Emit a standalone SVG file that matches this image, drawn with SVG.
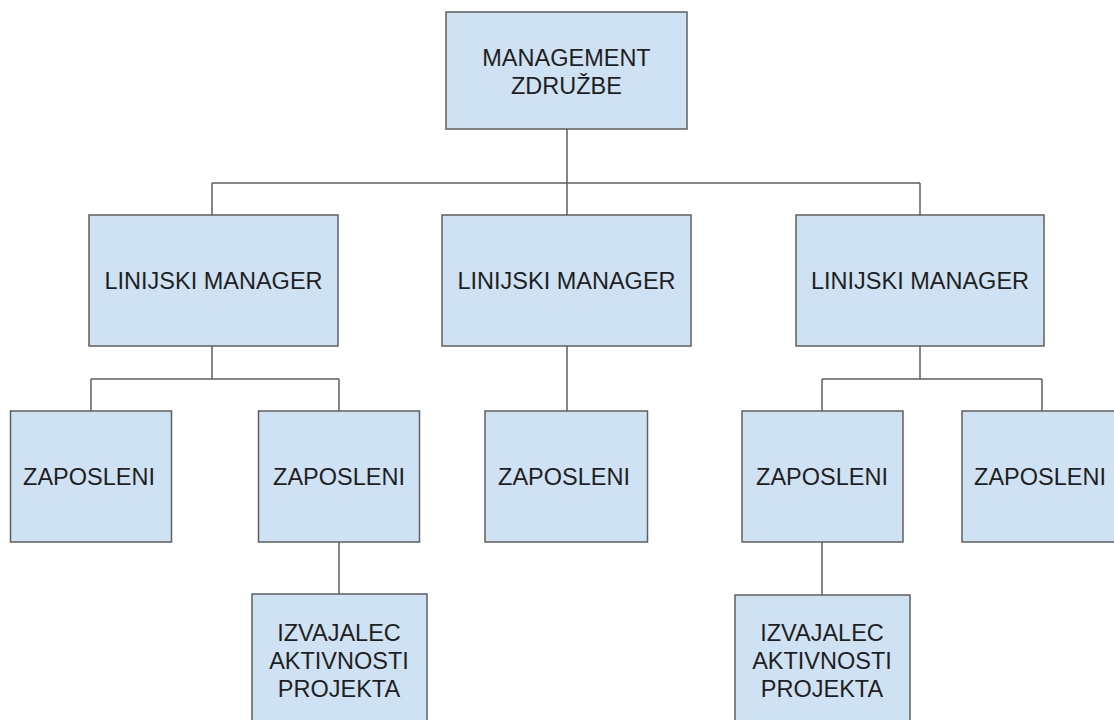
<svg xmlns="http://www.w3.org/2000/svg" width="1114" height="720" viewBox="0 0 1114 720">
  <style>
    .box { fill: #cfe2f3; stroke: #5f5f5f; stroke-width: 1.5; }
    .lbl { font-family: "Liberation Sans", Arial, sans-serif; font-size: 23.5px; fill: #1f1f1f; text-anchor: middle; }
    .wire { fill: none; stroke: #5f5f5f; stroke-width: 1.5; }
  </style>
  <rect width="1114" height="720" fill="#ffffff"/>

  <!-- connectors -->
  <g id="connectors" class="wire">
    <path d="M567 129V183M212 183H920M212 183V215M567 183V215M920 183V215"/>
    <path d="M212 346V379M91 379H339M91 379V411M339 379V411"/>
    <path d="M567 346V411"/>
    <path d="M920 346V379M822 379H1042M822 379V411M1042 379V411"/>
    <path d="M339 542V594"/>
    <path d="M822 542V595"/>
  </g>

  <!-- top level -->
  <g id="management">
    <rect class="box" x="446" y="12" width="241" height="117"/>
    <text class="lbl" x="566.5" y="66">MANAGEMENT</text>
    <text class="lbl" x="566.5" y="94">ZDRUŽBE</text>
  </g>

  <!-- line managers -->
  <g id="manager-left">
    <rect class="box" x="89" y="215" width="249" height="131"/>
    <text class="lbl" x="213.5" y="289">LINIJSKI MANAGER</text>
  </g>
  <g id="manager-middle">
    <rect class="box" x="442" y="215" width="249" height="131"/>
    <text class="lbl" x="566.5" y="289">LINIJSKI MANAGER</text>
  </g>
  <g id="manager-right">
    <rect class="box" x="796" y="215" width="248" height="131"/>
    <text class="lbl" x="920" y="289">LINIJSKI MANAGER</text>
  </g>

  <!-- employees -->
  <g id="employee-1">
    <rect class="box" x="10.5" y="411" width="161" height="131"/>
    <text class="lbl" x="89" y="485">ZAPOSLENI</text>
  </g>
  <g id="employee-2">
    <rect class="box" x="258.5" y="411" width="161" height="131"/>
    <text class="lbl" x="339" y="485">ZAPOSLENI</text>
  </g>
  <g id="employee-3">
    <rect class="box" x="485" y="411" width="162.5" height="131"/>
    <text class="lbl" x="564" y="485">ZAPOSLENI</text>
  </g>
  <g id="employee-4">
    <rect class="box" x="742" y="411" width="161" height="131"/>
    <text class="lbl" x="822" y="485">ZAPOSLENI</text>
  </g>
  <g id="employee-5">
    <rect class="box" x="962" y="411" width="162" height="131"/>
    <text class="lbl" x="1040" y="485">ZAPOSLENI</text>
  </g>

  <!-- project activity performers -->
  <g id="performer-left">
    <rect class="box" x="252" y="594" width="175" height="140"/>
    <text class="lbl" x="339" y="641">IZVAJALEC</text>
    <text class="lbl" x="339" y="669">AKTIVNOSTI</text>
    <text class="lbl" x="339" y="697">PROJEKTA</text>
  </g>
  <g id="performer-right">
    <rect class="box" x="735" y="595" width="175" height="140"/>
    <text class="lbl" x="822" y="641">IZVAJALEC</text>
    <text class="lbl" x="822" y="669">AKTIVNOSTI</text>
    <text class="lbl" x="822" y="697">PROJEKTA</text>
  </g>
</svg>
